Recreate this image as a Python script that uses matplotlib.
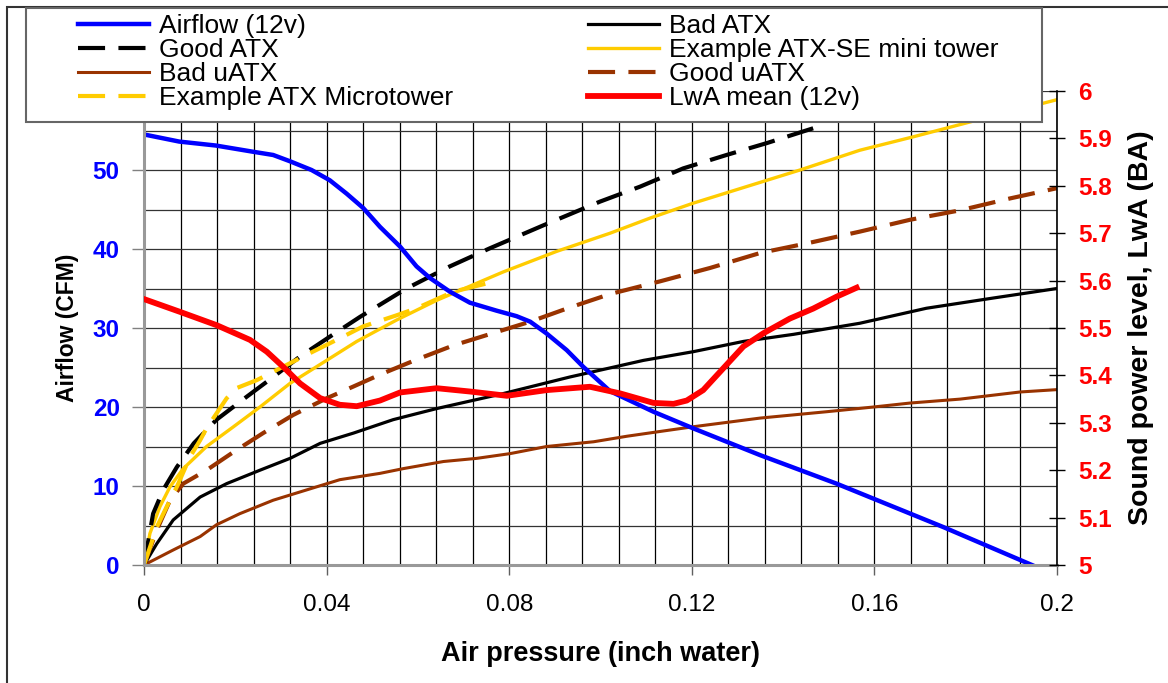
import matplotlib.pyplot as plt
from matplotlib.patches import Rectangle
from matplotlib.ticker import MultipleLocator, FuncFormatter

plt.rcParams['font.family'] = ['Liberation Sans', 'DejaVu Sans']

# Airflow (12v), CFM
p_air = [0, 0.0077, 0.0157, 0.024, 0.0283, 0.032, 0.0367, 0.0407, 0.0444, 0.048,
         0.0517, 0.0561, 0.0597, 0.0627, 0.067, 0.0714, 0.0772, 0.0816, 0.0846, 0.0882,
         0.0926, 0.0962, 0.1021, 0.1116, 0.1203, 0.135, 0.1517, 0.1751, 0.1945]
airflow = [54.5, 53.6, 53.1, 52.3, 51.9, 51.1, 50.0, 48.7, 47.0, 45.2,
           42.8, 40.3, 37.8, 36.3, 34.6, 33.2, 32.2, 31.5, 30.8, 29.3,
           27.2, 25.1, 22.0, 19.4, 17.3, 13.9, 10.3, 4.8, 0]

# LwA mean (12v), BA
p_lwa = [0, 0.0079, 0.0159, 0.0232, 0.0269, 0.0305, 0.0342, 0.0386, 0.0429, 0.0466,
         0.0517, 0.0561, 0.0641, 0.0714, 0.0795, 0.0882, 0.0977, 0.1043, 0.1116, 0.116,
         0.1189, 0.1225, 0.1269, 0.1313, 0.1357, 0.1415, 0.1466, 0.1517, 0.1561]
lwa = [5.561, 5.534, 5.506, 5.475, 5.45, 5.418, 5.383, 5.352, 5.338, 5.335,
       5.347, 5.364, 5.373, 5.366, 5.357, 5.369, 5.376, 5.362, 5.342, 5.34,
       5.347, 5.369, 5.415, 5.461, 5.489, 5.52, 5.541, 5.566, 5.585]

# system impedance curves
p_good_atx = [0, 0.002, 0.0042, 0.0072, 0.0109, 0.0159, 0.0225, 0.0283, 0.0342, 0.0407,
              0.0473, 0.0575, 0.067, 0.0758, 0.0875, 0.0999, 0.1087, 0.1181, 0.1276, 0.1364,
              0.1445, 0.1489]
good_atx = [0, 6.5, 9.5, 12.4, 15.4, 18.4, 21.3, 23.8, 26.4, 28.9,
            31.4, 35.0, 37.8, 40.1, 43.0, 46.0, 47.9, 50.2, 51.9, 53.4,
            54.9, 55.7]

p_bad_atx = [0, 0.0028, 0.0064, 0.0123, 0.0181, 0.0254, 0.032, 0.0386, 0.0459, 0.0546,
             0.0641, 0.0787, 0.0933, 0.1094, 0.1203, 0.1313, 0.1423, 0.1568, 0.1714, 0.1861, 0.2]
bad_atx = [0, 2.7, 5.7, 8.6, 10.3, 12.0, 13.5, 15.4, 16.7, 18.4,
           19.8, 21.7, 23.8, 25.9, 27.0, 28.3, 29.2, 30.6, 32.5, 33.8, 35.0]

p_se = [0, 0.0013, 0.0035, 0.0057, 0.0086, 0.0137, 0.0196, 0.0254, 0.032, 0.04,
        0.0466, 0.0553, 0.0641, 0.0787, 0.0904, 0.1021, 0.1108, 0.1203, 0.132, 0.1437,
        0.1568, 0.1685, 0.1824, 0.2]
se_tower = [0, 4.0, 7.4, 9.9, 12.2, 15.0, 17.5, 20.0, 23.0, 25.9,
            28.3, 31.0, 33.5, 37.1, 39.7, 42.0, 43.9, 45.8, 47.9, 50.0,
            52.5, 54.2, 56.3, 58.9]

p_micro = [0, 0.0028, 0.005, 0.0072, 0.0101, 0.0123, 0.0137, 0.0159, 0.0181, 0.0203,
           0.0247, 0.0298, 0.0356, 0.0429, 0.048, 0.0553, 0.0597, 0.0678, 0.0769]
micro_tower = [0, 4.8, 7.4, 9.9, 13.7, 15.8, 17.3, 19.2, 21.1, 22.4,
               23.4, 24.9, 26.6, 28.7, 30.2, 31.6, 32.5, 34.6, 35.9]

p_bad_uatx = [0, 0.0064, 0.0123, 0.0159, 0.021, 0.0283, 0.0356, 0.0429, 0.0517, 0.0568,
              0.0656, 0.0729, 0.0802, 0.0882, 0.0985, 0.1058, 0.113, 0.1203, 0.135, 0.1495,
              0.1598, 0.1678, 0.1788, 0.1919, 0.2]
bad_uatx = [0, 1.9, 3.6, 5.1, 6.5, 8.2, 9.5, 10.8, 11.6, 12.2,
            13.1, 13.5, 14.1, 15.0, 15.6, 16.3, 16.9, 17.5, 18.6, 19.4,
            20.0, 20.5, 21.0, 21.9, 22.2]

p_good_uatx = [0, 0.0028, 0.0057, 0.0086, 0.0137, 0.0196, 0.0261, 0.0327, 0.04, 0.0459,
               0.0517, 0.0597, 0.0678, 0.0773, 0.0846, 0.0933, 0.1021, 0.113, 0.124, 0.135,
               0.1459, 0.1568, 0.1678, 0.1788, 0.1897, 0.2]
good_uatx = [0, 4.4, 8.2, 10.3, 12.0, 14.3, 16.7, 19.0, 21.1, 22.6,
             24.1, 26.0, 27.8, 29.5, 30.8, 32.6, 34.3, 35.9, 37.6, 39.5,
             40.8, 42.2, 43.7, 44.9, 46.4, 47.7]

BLUE = '#0000FF'
RED = '#FF0000'
BROWN = '#993300'
GOLD = '#FFCC00'
dash = (0, (6.5, 3.2))

fig = plt.figure(figsize=(11.68, 6.83), dpi=100)
ax = fig.add_axes([144 / 1168, 118 / 683, 913 / 1168, 474 / 683])
ax2 = ax.twinx()

l_bad_uatx, = ax.plot(p_bad_uatx, bad_uatx, color=BROWN, lw=2.2, label='Bad uATX')
l_bad_atx, = ax.plot(p_bad_atx, bad_atx, color='black', lw=2.3, label='Bad ATX')
l_good_uatx, = ax.plot(p_good_uatx, good_uatx, color=BROWN, lw=3.0, ls=dash, label='Good uATX')
l_se, = ax.plot(p_se, se_tower, color=GOLD, lw=2.4, label='Example ATX-SE mini tower')
l_good_atx, = ax.plot(p_good_atx, good_atx, color='black', lw=3.0, ls=dash, label='Good ATX')
l_micro, = ax.plot(p_micro, micro_tower, color=GOLD, lw=3.0, ls=dash, label='Example ATX Microtower')
l_air, = ax.plot(p_air, airflow, color=BLUE, lw=3.2, label='Airflow (12v)')
l_lwa, = ax2.plot(p_lwa, lwa, color=RED, lw=4.2, label='LwA mean (12v)')

ax.set_xlim(0, 0.2)
ax.set_ylim(0, 60)
ax2.set_ylim(5, 6)

ax.xaxis.set_major_locator(MultipleLocator(0.04))
ax.xaxis.set_minor_locator(MultipleLocator(0.008))
ax.yaxis.set_minor_locator(MultipleLocator(5))
ax.set_yticks([0, 10, 20, 30, 40, 50])
ax2.yaxis.set_major_locator(MultipleLocator(0.1))
ax.xaxis.set_major_formatter(FuncFormatter(lambda v, p: '%g' % round(v, 3)))
ax2.yaxis.set_major_formatter(FuncFormatter(lambda v, p: '%g' % round(v, 2)))

ax.grid(True, which='both', axis='x', color='black', lw=0.9)
ax.grid(True, which='both', axis='y', color='#333333', lw=0.9)
ax.set_axisbelow(True)

ax.tick_params(axis='x', which='major', direction='out', length=7, width=1, color='#606060',
               labelsize=17.5, pad=14)
ax.tick_params(axis='x', which='minor', length=0)
ax.tick_params(axis='y', which='major', direction='out', length=9, width=1, color='#808080',
               labelsize=17.5, labelcolor=BLUE, pad=8.5)
ax.tick_params(axis='y', which='minor', length=0)
ax2.tick_params(axis='y', direction='inout', length=12, width=1, color='black',
                labelsize=17.5, labelcolor=RED, pad=9)
for t in ax.get_yticklabels() + ax2.get_yticklabels():
    t.set_fontweight('bold')

for s in ('left', 'bottom'):
    ax.spines[s].set_color('#999999')
    ax.spines[s].set_linewidth(2.2)
ax.spines['top'].set_visible(False)
ax.spines['right'].set_visible(False)
ax2.spines['top'].set_visible(False)
ax2.spines['left'].set_visible(False)
ax2.spines['bottom'].set_visible(False)
ax2.spines['right'].set_color('black')
ax2.spines['right'].set_linewidth(1.2)

ax.set_xlabel('Air pressure (inch water)', fontsize=19.5, fontweight='bold', labelpad=18)
ax.set_ylabel('Airflow (CFM)', fontsize=16.5, fontweight='bold', labelpad=10)
ax2.set_ylabel('Sound power level, LwA (BA)', fontsize=20.5, fontweight='bold', labelpad=12)

# chart border and legend box
fig.patches.append(Rectangle((7 / 1168, -0.05), 1.1, 1 - 7 / 683 + 0.05, transform=fig.transFigure,
                             fill=False, edgecolor='#333333', lw=1.5, zorder=1))
fig.patches.append(Rectangle((26 / 1168, 1 - 122 / 683), (1042 - 26) / 1168, (122 - 8) / 683,
                             transform=fig.transFigure, facecolor='white', edgecolor='#666666',
                             lw=1.5, zorder=2))

leg_kw = dict(loc='upper left', frameon=False, fontsize=19, handlelength=2.7,
              handletextpad=0.38, labelspacing=0.0, borderpad=0, borderaxespad=0)
fig.legend([l_air, l_good_atx, l_bad_uatx, l_micro],
           [h.get_label() for h in (l_air, l_good_atx, l_bad_uatx, l_micro)],
           bbox_to_anchor=(78 / 1168, 1 - 14 / 683), **leg_kw)
fig.legend([l_bad_atx, l_se, l_good_uatx, l_lwa],
           [h.get_label() for h in (l_bad_atx, l_se, l_good_uatx, l_lwa)],
           bbox_to_anchor=(588 / 1168, 1 - 14 / 683), **leg_kw)

plt.savefig('out.png', dpi=100)
plt.close()
